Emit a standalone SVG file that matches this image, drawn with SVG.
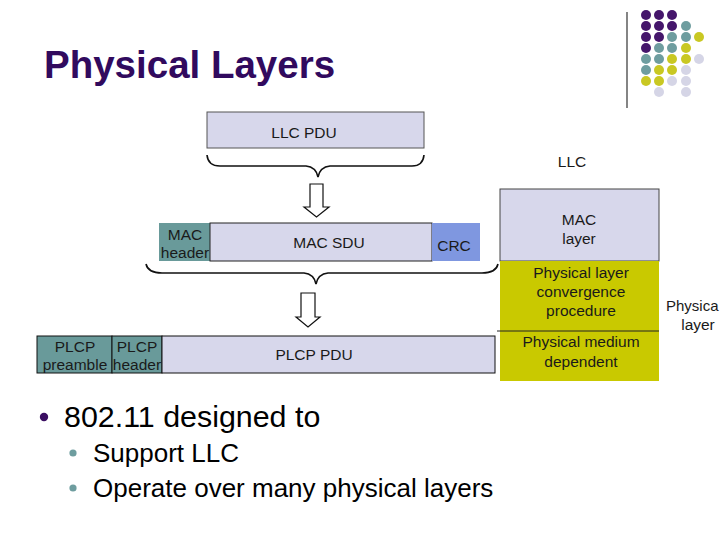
<svg xmlns="http://www.w3.org/2000/svg" width="720" height="540" viewBox="0 0 720 540">
<style>
.t{font-family:"Liberation Sans",Arial,sans-serif;font-size:15.5px;fill:#1a1a1a;text-anchor:middle}
.lav{fill:#D7D7EB}
.teal{fill:#699A9A}
.yel{fill:#C9C900}
.brace{fill:none;stroke:#111;stroke-width:1.6}
.arr{fill:#fff;stroke:#111;stroke-width:1.2}
.dp{fill:#45166B}.dt{fill:#6E9D9F}.dy{fill:#C9C823}.dl{fill:#D5D5E6}
.b{font-family:"Liberation Sans",Arial,sans-serif;fill:#000}
</style>
<rect width="720" height="540" fill="#fff"/>
<g id="decor">
<line x1="627" y1="12" x2="627" y2="108" stroke="#333" stroke-width="1.2"/>
<g>
<circle class="dp" cx="646" cy="15" r="5"/><circle class="dp" cx="659" cy="15" r="5"/><circle class="dp" cx="672" cy="15" r="5"/>
<circle class="dp" cx="646" cy="26" r="5"/><circle class="dp" cx="659" cy="26" r="5"/><circle class="dp" cx="672" cy="26" r="5"/><circle class="dt" cx="686" cy="26" r="5"/>
<circle class="dp" cx="646" cy="37" r="5"/><circle class="dp" cx="659" cy="37" r="5"/><circle class="dt" cx="672" cy="37" r="5"/><circle class="dt" cx="686" cy="37" r="5"/><circle class="dy" cx="699" cy="37" r="5"/>
<circle class="dp" cx="646" cy="48" r="5"/><circle class="dt" cx="659" cy="48" r="5"/><circle class="dt" cx="672" cy="48" r="5"/><circle class="dy" cx="686" cy="48" r="5"/>
<circle class="dt" cx="646" cy="59" r="5"/><circle class="dt" cx="659" cy="59" r="5"/><circle class="dy" cx="672" cy="59" r="5"/><circle class="dy" cx="686" cy="59" r="5"/><circle class="dl" cx="699" cy="59" r="5"/>
<circle class="dt" cx="646" cy="70" r="5"/><circle class="dy" cx="659" cy="70" r="5"/><circle class="dy" cx="672" cy="70" r="5"/><circle class="dl" cx="686" cy="70" r="5"/>
<circle class="dy" cx="646" cy="81" r="5"/><circle class="dy" cx="659" cy="81" r="5"/><circle class="dl" cx="672" cy="81" r="5"/><circle class="dl" cx="686" cy="81" r="5"/>
<circle class="dl" cx="659" cy="92" r="5"/><circle class="dl" cx="686" cy="92" r="5"/>
</g>
</g>
<g id="title">
<text x="44" y="78" font-family="'Liberation Sans',Arial,sans-serif" font-size="38.5" font-weight="bold" fill="#310A5E">Physical Layers</text>
</g>
<g id="llc-pdu">
<rect class="lav" x="207" y="112" width="217" height="36" stroke="#555" stroke-width="1"/>
<text class="t" x="304" y="138">LLC PDU</text>
</g>
<g id="llc-label">
<text class="t" x="572" y="167">LLC</text>
</g>
<g id="mac-header">
<rect class="teal" x="159" y="223" width="51" height="38"/>
<text class="t" x="185" y="240">MAC</text>
<text class="t" x="185" y="258">header</text>
</g>
<g id="mac-sdu">
<rect class="lav" x="210" y="223" width="222" height="38" stroke="#222" stroke-width="1"/>
<text class="t" x="329" y="248">MAC SDU</text>
</g>
<g id="crc">
<rect x="432" y="223" width="48" height="38" fill="#7F97E0"/>
<text class="t" x="454" y="251" fill="#1a1a40">CRC</text>
</g>
<g id="plcp-preamble">
<rect class="teal" x="37" y="336" width="75" height="37" stroke="#111" stroke-width="1"/>
<text class="t" x="75" y="352">PLCP</text>
<text class="t" x="75" y="370">preamble</text>
</g>
<g id="plcp-header">
<rect class="teal" x="112" y="336" width="50" height="37" stroke="#111" stroke-width="1"/>
<text class="t" x="137" y="352">PLCP</text>
<text class="t" x="137" y="370">header</text>
</g>
<g id="plcp-pdu">
<rect class="lav" x="162" y="336" width="333" height="37" stroke="#111" stroke-width="1"/>
<text class="t" x="314" y="360">PLCP PDU</text>
</g>
<g id="mac-layer">
<rect class="lav" x="500" y="189" width="159" height="72" stroke="#444" stroke-width="1"/>
<text class="t" x="579" y="225">MAC</text>
<text class="t" x="579" y="244">layer</text>
</g>
<g id="plcp-layer">
<rect class="yel" x="500" y="261" width="159" height="70"/>
<text class="t" x="581" y="278">Physical layer</text>
<text class="t" x="581" y="297">convergence</text>
<text class="t" x="581" y="316">procedure</text>
</g>
<g id="pmd-layer">
<rect class="yel" x="500" y="331" width="159" height="50"/>
<line x1="497" y1="331" x2="659" y2="331" stroke="#222" stroke-width="1"/>
<text class="t" x="581" y="347">Physical medium</text>
<text class="t" x="581" y="367">dependent</text>
</g>
<g id="physical-label">
<text class="t" x="666" y="311" style="text-anchor:start;font-size:15px">Physica</text>
<text class="t" x="698" y="330">layer</text>
</g>
<g id="connectors">
<path class="brace" d="M207,155 Q208,166 220,166 L306,166 Q316,167 318,177 Q320,167 330,166 L412,166 Q423,166 424,155"/>
<path class="brace" d="M146,264 Q148,273 162,273 L304,273 Q314,274 316,284 Q318,274 328,273 L482,273 Q496,273 498,264"/>
<path class="arr" d="M310,184 L323,184 L323,207 L329,207 L316.5,217 L304,207 L310,207 Z"/>
<path class="arr" d="M301,293 L315,293 L315,317 L320,317 L308,327 L296,317 L301,317 Z"/>
</g>
<g id="bullets">
<circle cx="44" cy="417" r="4.2" fill="#3A0E62"/>
<text class="b" x="64" y="427" font-size="30.4">802.11 designed to</text>
<circle cx="73" cy="453" r="3.6" fill="#6E9D9F"/>
<text class="b" x="93" y="462" font-size="26">Support LLC</text>
<circle cx="73" cy="488" r="3.6" fill="#6E9D9F"/>
<text class="b" x="93" y="497" font-size="26">Operate over many physical layers</text>
</g>
</svg>
